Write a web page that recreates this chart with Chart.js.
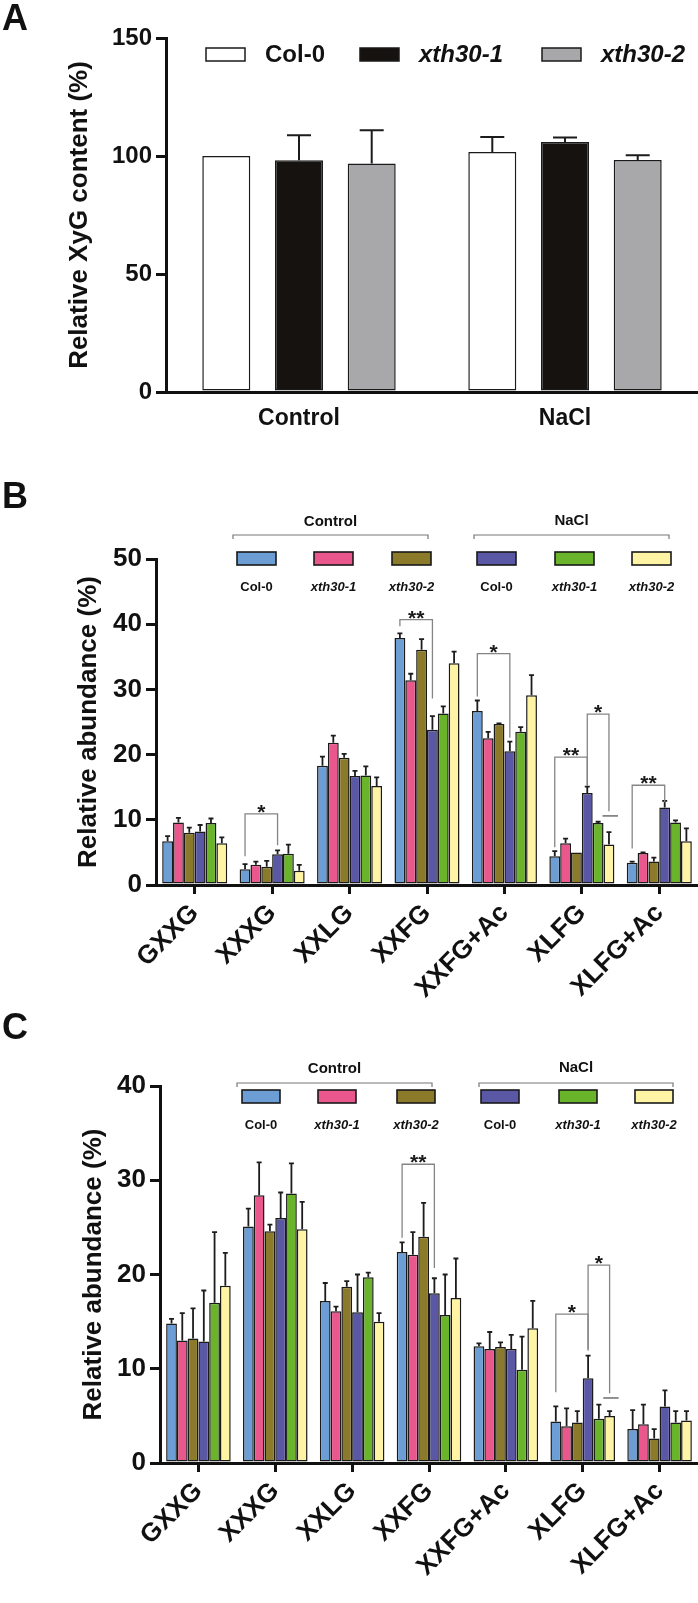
<!DOCTYPE html>
<html>
<head>
<meta charset="utf-8">
<script src="https://cdn.jsdelivr.net/npm/chart.js@4.4.1/dist/chart.umd.min.js"></script>
<style>
  html, body { margin: 0; padding: 0; background: #fff; }
  body { width: 698px; height: 1603px; position: relative; overflow: hidden; }
  canvas { position: absolute; left: 0; }
  .panel { position: absolute; left: 2px; font: bold 36px 'Liberation Sans', Arial, sans-serif; line-height: 1; color: #111; }
</style>
</head>
<body>
<canvas id="chartA" width="698" height="440" style="top:0"></canvas>
<canvas id="chartB" width="698" height="560" style="top:460px"></canvas>
<canvas id="chartC" width="698" height="603" style="top:1000px"></canvas>
<div class="panel" style="top:0">A</div>
<div class="panel" style="top:478px">B</div>
<div class="panel" style="top:1009px">C</div>
<script>
// ---- panel A: total XyG ----
const groupsA = ['Control', 'NaCl'];
const col0A   = [100, 101.7];
const xth1A   = [98.2, 105.9];
const xth2A   = [96.8, 98.3];
const col0A_sd = [0, 6.3];
const xth1A_sd = [10.6, 1.9];
const xth2A_sd = [14.1, 2.0];

// ---- panels B / C: oligosaccharides ----
const oligos = ['GXXG', 'XXXG', 'XXLG', 'XXFG', 'XXFG+Ac', 'XLFG', 'XLFG+Ac'];
const lines  = ['Col-0', 'xth30-1', 'xth30-2', 'Col-0', 'xth30-1', 'xth30-2'];

// B
const ctrlCol0B = [6.7, 2.4, 18.3, 37.9, 26.7, 4.4, 3.4];
const ctrlX1B   = [9.6, 3.1, 21.8, 31.4, 22.5, 6.4, 4.9];
const ctrlX2B   = [8.0, 2.8, 19.5, 36.1, 24.7, 5.0, 3.6];
const naclCol0B = [8.2, 4.7, 16.7, 23.8, 20.5, 14.1, 11.9];
const naclX1B   = [9.5, 4.8, 16.8, 26.3, 23.5, 9.5, 9.6];
const naclX2B   = [6.4, 2.2, 15.2, 34.0, 29.1, 6.2, 6.7];
const ctrlCol0B_sd = [0.8, 0.8, 1.4, 0.7, 1.6, 0.8, 0.2];
const ctrlX1B_sd   = [0.7, 0.5, 1.1, 1.0, 1.0, 0.7, 0.1];
const ctrlX2B_sd   = [0.8, 0.9, 0.6, 1.6, 0.1, 0, 0.6];
const naclCol0B_sd = [1.0, 0.6, 0.8, 2.1, 1.5, 1.0, 1.0];
const naclX1B_sd   = [0.7, 1.4, 1.4, 1.1, 0.7, 0.2, 0.3];
const naclX2B_sd   = [0.9, 0.9, 1.3, 1.8, 3.1, 1.9, 2.0];
// [oligo, from series, to series, bracket level, left leg end, right leg end, mark]
const sigB = [
  ['XXXG', 0, 3, 10.9, 4.4, 6.1, '*'],
  ['XXFG', 0, 3, 40.7, 39.7, 28.6, '**'],
  ['XXFG+Ac', 0, 3, 35.5, 28.9, 22.6, '*'],
  ['XLFG', 0, 3, 19.6, 5.8, 15.2, '**'],
  ['XLFG', 3, 5, 26.2, 15.3, 11.3, '*'],
  ['XLFG+Ac', 0, 3, 15.3, 5.6, 12.7, '**'],
];
const dashB = [['XLFG', 10.6]];

// C
const ctrlCol0C = [14.8, 25.1, 17.2, 22.4, 12.4, 4.4, 3.6];
const ctrlX1C   = [13.0, 28.4, 16.1, 22.1, 12.1, 3.9, 4.1];
const ctrlX2C   = [13.2, 24.6, 18.7, 24.0, 12.3, 4.3, 2.6];
const naclCol0C = [12.9, 26.0, 16.0, 18.0, 12.1, 9.0, 6.0];
const naclX1C   = [17.0, 28.6, 19.7, 15.7, 9.9, 4.7, 4.3];
const naclX2C   = [18.8, 24.8, 15.0, 17.5, 14.3, 5.0, 4.5];
const ctrlCol0C_sd = [0.5, 1.9, 1.9, 1.0, 0.3, 1.6, 2.0];
const ctrlX1C_sd   = [2.9, 3.5, 0.5, 2.4, 1.8, 1.9, 2.1];
const ctrlX2C_sd   = [3.2, 0.7, 0.6, 3.6, 0.5, 1.2, 1.0];
const naclCol0C_sd = [5.4, 2.7, 4.0, 1.6, 1.5, 2.4, 1.7];
const naclX1C_sd   = [7.5, 3.2, 0.5, 4.3, 3.5, 1.5, 1.2];
const naclX2C_sd   = [3.5, 2.9, 0.9, 4.2, 2.9, 0.5, 1.0];
const sigC = [
  ['XXFG', 0, 3, 31.7, 23.9, 20.7, '**'],
  ['XLFG', 0, 3, 15.8, 7.5, 11.9, '*'],
  ['XLFG', 3, 5, 21.0, 12.1, 7.4, '*'],
];
const dashC = [['XLFG', 6.9]];

const FONT = "'Liberation Sans', Arial, Helvetica, sans-serif";
const INK  = '#111111';
const EDGE = '#1a1a1a';
const colorsA = ['#ffffff', '#15120f', '#a8a7aa'];
const colorsBC = ['#6c9dd4', '#ea578c', '#8c7a2b', '#5a57a4', '#6ab42c', '#fff4a4'];

// upper error whiskers
function errorBars(cap, width) {
  return {
    id: 'errorBars',
    afterDatasetsDraw(chart) {
      const ctx = chart.ctx, y = chart.scales.y;
      ctx.save();
      ctx.strokeStyle = '#1c1c1c';
      ctx.lineWidth = width;
      chart.data.datasets.forEach((ds, i) => {
        chart.getDatasetMeta(i).data.forEach((bar, j) => {
          const sd = ds.sd[j];
          if (!sd) return;
          const top = y.getPixelForValue(ds.data[j] + sd);
          ctx.beginPath();
          ctx.moveTo(bar.x, bar.y);
          ctx.lineTo(bar.x, top);
          ctx.moveTo(bar.x - cap, top);
          ctx.lineTo(bar.x + cap, top);
          ctx.stroke();
        });
      });
      ctx.restore();
    }
  };
}

// significance brackets
function sigMarks(marks, dashes) {
  return {
    id: 'sigMarks',
    afterDatasetsDraw(chart) {
      const ctx = chart.ctx, y = chart.scales.y;
      const cx = (cat, s) => chart.getDatasetMeta(s).data[chart.data.labels.indexOf(cat)].x;
      ctx.save();
      ctx.strokeStyle = '#858585';
      ctx.lineWidth = 1.3;
      for (const m of marks) {
        const x0 = cx(m[0], m[1]), x1 = cx(m[0], m[2]);
        const yt = y.getPixelForValue(m[3]);
        ctx.beginPath();
        ctx.moveTo(x0, y.getPixelForValue(m[4]));
        ctx.lineTo(x0, yt);
        ctx.lineTo(x1, yt);
        ctx.lineTo(x1, y.getPixelForValue(m[5]));
        ctx.stroke();
        ctx.fillStyle = '#1a1a1a';
        ctx.font = 'bold 21px ' + FONT;
        ctx.textAlign = 'center';
        ctx.textBaseline = 'alphabetic';
        ctx.fillText(m[6], (x0 + x1) / 2, yt + 5);
      }
      ctx.lineWidth = 1.8;
      for (const d of dashes) {
        const g = cx(d[0], 4), w = cx(d[0], 5);
        const yy = y.getPixelForValue(d[1]);
        ctx.beginPath();
        ctx.moveTo((g + w) / 2 - 1, yy);
        ctx.lineTo(w + 9, yy);
        ctx.stroke();
      }
      ctx.restore();
    }
  };
}

// legend with text beside the box (panel A)
function sideLegend(o) {
  return {
    id: 'sideLegend',
    afterDraw(chart) {
      const ctx = chart.ctx;
      ctx.save();
      chart.data.datasets.forEach((ds, i) => {
        const bx = o.x[i];
        ctx.fillStyle = ds.backgroundColor;
        ctx.fillRect(bx, o.y, o.w, o.h);
        ctx.strokeStyle = EDGE;
        ctx.lineWidth = 1.5;
        ctx.strokeRect(bx, o.y, o.w, o.h);
        ctx.fillStyle = INK;
        ctx.font = (ds.italic ? 'italic ' : '') + 'bold ' + o.size + 'px ' + FONT;
        ctx.textAlign = 'left';
        ctx.textBaseline = 'middle';
        ctx.fillText(ds.label, bx + o.w + o.gap, o.y + o.h / 2 + 1);
      });
      ctx.restore();
    }
  };
}

// grouped legend with treatment brackets (panels B, C)
function groupLegend(o) {
  return {
    id: 'groupLegend',
    afterDraw(chart) {
      const ctx = chart.ctx;
      ctx.save();
      ctx.strokeStyle = '#777';
      ctx.lineWidth = 1.2;
      o.groups.forEach(g => {
        ctx.beginPath();
        ctx.moveTo(g.x0, g.by + 4);
        ctx.lineTo(g.x0, g.by);
        ctx.lineTo(g.x1, g.by);
        ctx.lineTo(g.x1, g.by + 4);
        ctx.stroke();
        ctx.fillStyle = INK;
        ctx.font = 'bold 15px ' + FONT;
        ctx.textAlign = 'center';
        ctx.textBaseline = 'middle';
        ctx.fillText(g.text, (g.x0 + g.x1) / 2, g.ty);
      });
      chart.data.datasets.forEach((ds, i) => {
        const bx = o.x[i];
        ctx.fillStyle = ds.backgroundColor;
        ctx.fillRect(bx, o.y, o.w, o.h);
        ctx.strokeStyle = EDGE;
        ctx.lineWidth = 1.6;
        ctx.strokeRect(bx, o.y, o.w, o.h);
        ctx.fillStyle = INK;
        ctx.font = (ds.italic ? 'italic ' : '') + 'bold 13px ' + FONT;
        ctx.textAlign = 'center';
        ctx.textBaseline = 'middle';
        ctx.fillText(ds.label, bx + o.w / 2, o.ty);
      });
      ctx.restore();
    }
  };
}

function makeChart(id, o) {
  return new Chart(document.getElementById(id), {
    type: 'bar',
    data: { labels: o.labels, datasets: o.datasets },
    options: {
      responsive: false,
      animation: false,
      events: [],
      layout: { padding: { top: o.top, left: 0, right: 0, bottom: 0 } },
      plugins: { legend: { display: false }, tooltip: { enabled: false } },
      datasets: {
        bar: {
          categoryPercentage: o.catPct,
          barPercentage: o.barPct,
          borderWidth: 1.5,
          borderColor: EDGE,
          borderSkipped: false
        }
      },
      scales: {
        x: {
          offset: true,
          grid: o.xTicks
            ? { display: true, drawOnChartArea: false, drawTicks: true, tickLength: 9, offset: false, lineWidth: 3, color: INK }
            : { display: false, drawTicks: false },
          border: { display: true, width: 3, color: INK, z: 1 },
          ticks: {
            font: { family: FONT, size: o.xFont, weight: 'bold' },
            color: INK,
            minRotation: o.rot, maxRotation: o.rot,
            autoSkip: false,
            padding: o.xPad
          },
          afterFit: s => { s.height = o.xHeight; s.paddingLeft = 0; s.paddingRight = 0; }
        },
        y: {
          min: 0, max: o.yMax,
          ticks: { stepSize: o.yStep, font: { family: FONT, size: o.yFont, weight: 'bold' }, color: INK, padding: 4 },
          grid: { drawOnChartArea: false, drawTicks: true, tickLength: 10, lineWidth: 3, color: INK },
          border: { display: true, width: 3, color: INK },
          title: {
            display: true, text: o.yTitle, color: INK,
            font: { family: FONT, size: 26, weight: 'bold' },
            padding: { top: o.titleX - 15.6, bottom: 0 }
          },
          afterFit: s => { s.width = o.yWidth; }
        }
      }
    },
    plugins: o.plugins
  });
}

function series(values, sds, colors) {
  return values.map((v, i) => ({
    label: lines[i],
    data: v,
    sd: sds[i],
    backgroundColor: colors[i],
    italic: lines[i] !== 'Col-0'
  }));
}

// A
makeChart('chartA', {
  labels: groupsA,
  datasets: series([col0A, xth1A, xth2A], [col0A_sd, xth1A_sd, xth2A_sd], colorsA),
  top: 38, yWidth: 166, xHeight: 48, yMax: 150, yStep: 50, yFont: 24,
  yTitle: 'Relative XyG content (%)', titleX: 80,
  catPct: 0.82, barPct: 0.66,
  xTicks: false, xFont: 23, rot: 0, xPad: 13,
  plugins: [errorBars(12, 2), sideLegend({ x: [206, 360, 542], y: 48, w: 39, h: 13, gap: 20, size: 24 })]
});

// B
makeChart('chartB', {
  labels: oligos,
  datasets: series([ctrlCol0B, ctrlX1B, ctrlX2B, naclCol0B, naclX1B, naclX2B],
                   [ctrlCol0B_sd, ctrlX1B_sd, ctrlX2B_sd, naclCol0B_sd, naclX1B_sd, naclX2B_sd], colorsBC),
  top: 99, yWidth: 156, xHeight: 135, yMax: 50, yStep: 10, yFont: 26,
  yTitle: 'Relative abundance (%)', titleX: 89,
  catPct: 0.84, barPct: 1.0,
  xTicks: true, xFont: 26, rot: 45, xPad: 4,
  plugins: [errorBars(2.5, 1.8), sigMarks(sigB, dashB), groupLegend({
    groups: [{ text: 'Control', x0: 233, x1: 428, by: 75, ty: 62 }, { text: 'NaCl', x0: 474, x1: 669, by: 75, ty: 61 }],
    x: [237, 314, 392, 477, 555, 632], y: 92, w: 39, h: 13, ty: 127
  })]
});

// C
makeChart('chartC', {
  labels: oligos,
  datasets: series([ctrlCol0C, ctrlX1C, ctrlX2C, naclCol0C, naclX1C, naclX2C],
                   [ctrlCol0C_sd, ctrlX1C_sd, ctrlX2C_sd, naclCol0C_sd, naclX1C_sd, naclX2C_sd], colorsBC),
  top: 86, yWidth: 160, xHeight: 140, yMax: 40, yStep: 10, yFont: 26,
  yTitle: 'Relative abundance (%)', titleX: 94,
  catPct: 0.84, barPct: 1.0,
  xTicks: true, xFont: 26, rot: 45, xPad: 4,
  plugins: [errorBars(2.5, 1.8), sigMarks(sigC, dashC), groupLegend({
    groups: [{ text: 'Control', x0: 237, x1: 432, by: 83, ty: 69 }, { text: 'NaCl', x0: 479, x1: 673, by: 83, ty: 68 }],
    x: [242, 318, 397, 481, 559, 635], y: 90, w: 38, h: 13, ty: 125
  })]
});
</script>
</body>
</html>
